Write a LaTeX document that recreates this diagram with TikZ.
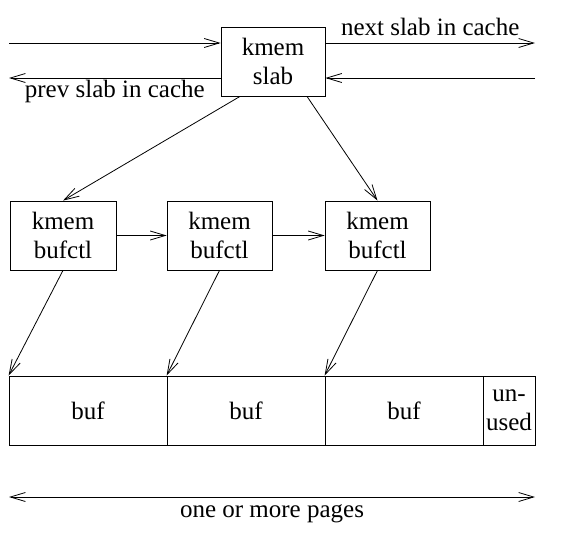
\documentclass[tikz,border=0pt]{standalone}
\usepackage{fontspec}
\setmainfont{Liberation Serif}
\usetikzlibrary{arrows.meta}

\tikzset{
  >={Straight Barb[length=15pt, width=9pt]},
  box/.style = {draw, line width=0.8pt, minimum height=69pt, align=center, inner sep=0pt},
  link/.style = {line width=0.8pt, ->},
}

\begin{document}
\begin{tikzpicture}[x=1pt, y=-1pt, font=\fontsize{25}{29}\selectfont]
\useasboundingbox (0,0) rectangle (578,544);

\node[box, minimum width=104pt] (slab) at (273, 61.5) {kmem\\slab};

\node[box, minimum width=106pt] (ctl1) at (63, 235.5) {kmem\\bufctl};
\node[box, minimum width=105pt] (ctl2) at (219.5, 235.5) {kmem\\bufctl};
\node[box, minimum width=105pt] (ctl3) at (377.5, 235.5) {kmem\\bufctl};

\node[box, minimum width=158pt] (buf1) at (88, 410.5) {buf};
\node[box, minimum width=158pt] (buf2) at (246, 410.5) {buf};
\node[box, minimum width=158pt] (buf3) at (404, 410.5) {buf};
\node[box, minimum width=52pt] (unused) at (509, 410.5) {un-\\used};

% slab list in the cache
\coordinate (inL) at (9, 43);
\coordinate (outR) at (535, 43);
\coordinate (inR) at (535, 78);
\coordinate (outL) at (9, 78);
\draw[link] (inL) -- (inL -| slab.west);
\draw[link] (slab.east |- outR) -- (outR) node[midway, above, inner sep=7pt] {next slab in cache};
\draw[link] (inR) -- (slab.east |- inR);
\draw[link] (slab.west |- outL) -- (outL) node[midway, below, inner sep=2pt] {prev slab in cache};

\draw[link] ([xshift=-33pt]slab.south) -- (ctl1.north);
\draw[link] ([xshift=34pt]slab.south) -- (ctl3.north);
\draw[link] (ctl1) -- (ctl2);
\draw[link] (ctl2) -- (ctl3);

\draw[link] (ctl1.south) -- (buf1.north west);
\draw[link] (ctl2.south) -- (buf2.north west);
\draw[link] (ctl3.south) -- (buf3.north west);

\coordinate (pgL) at (9, 497);
\coordinate (pgR) at (535, 497);
\draw[link, <->] (pgL) -- (pgR) node[midway, below, inner sep=7pt] {one or more pages};
\end{tikzpicture}
\end{document}
